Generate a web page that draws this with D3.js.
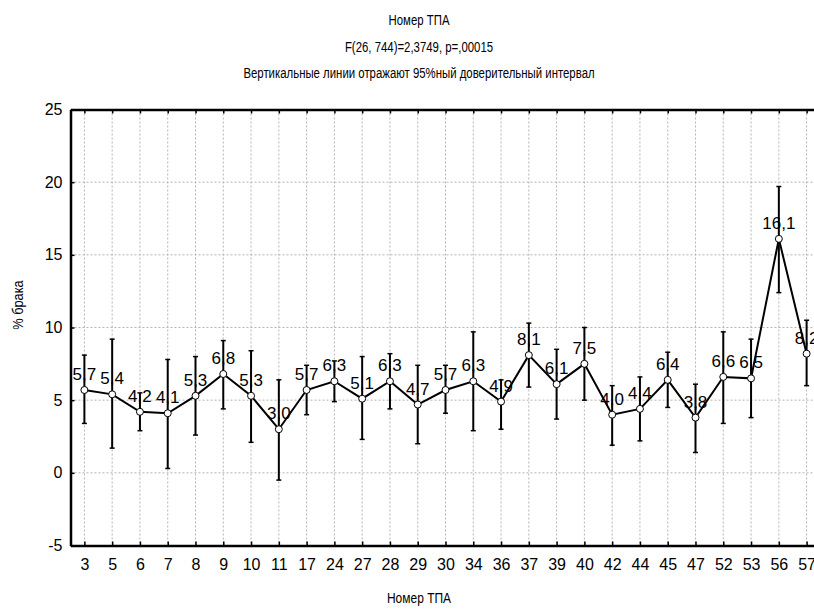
<!DOCTYPE html>
<html>
<head>
<meta charset="utf-8">
<script src="https://unpkg.com/d3@7/dist/d3.min.js"></script>
<style>
  body { margin: 0; background: #fff; }
  svg { font-family: "Liberation Sans", Arial, sans-serif; }
</style>
</head>
<body>
<div class="chart"></div>
<script>
// machine numbers (x categories)
const categories = ["3","5","6","7","8","9","10","11","17","24","27","28","29","30","34","36","37","39","40","42","44","45","47","52","53","56","57"];
// mean % defects
const means = [5.7,5.4,4.2,4.1,5.3,6.8,5.3,3.0,5.7,6.3,5.1,6.3,4.7,5.7,6.3,4.9,8.1,6.1,7.5,4.0,4.4,6.4,3.8,6.6,6.5,16.1,8.2];
// 95% confidence interval bounds
const ciLow = [3.4,1.7,2.9,0.3,2.6,4.4,2.1,-0.5,4.0,4.9,2.3,4.4,2.0,4.1,2.9,3.0,5.9,3.7,5.0,1.9,2.2,4.5,1.4,3.4,3.8,12.4,6.0];
const ciHigh = [8.1,9.2,5.5,7.8,8.0,9.1,8.4,6.4,7.4,7.7,8.0,8.2,7.4,7.4,9.7,6.4,10.3,8.5,10.0,6.0,6.6,8.3,6.1,9.7,9.2,19.7,10.5];
const yTicks = [-5, 0, 5, 10, 15, 20, 25];

const titleLines = ["Номер ТПА", "F(26, 744)=2,3749, p=,00015", "Вертикальные линии отражают 95%ный доверительный интервал"];

const W = 814, H = 611;
const margin = { top: 109.5, left: 70.5 };
const width = 750, height = 436;

const data = categories.map((c, i) => ({ cat: c, mean: means[i], lo: ciLow[i], hi: ciHigh[i] }));

const svg = d3.select(".chart").append("svg")
  .attr("width", W).attr("height", H);

const g = svg.append("g")
  .attr("transform", "translate(" + margin.left + "," + margin.top + ")");

const x = d3.scalePoint().domain(categories).range([0, width]).padding(0.5);
const y = d3.scaleLinear().domain([-5, 25]).range([height, 0]);

// grid
g.append("g").selectAll("line").data(categories).join("line")
  .attr("x1", d => x(d)).attr("x2", d => x(d))
  .attr("y1", 0).attr("y2", height)
  .attr("stroke", "#b4b4b4").attr("stroke-dasharray", "2,2");
g.append("g").selectAll("line").data(yTicks.slice(1, -1)).join("line")
  .attr("x1", 0).attr("x2", width)
  .attr("y1", d => y(d)).attr("y2", d => y(d))
  .attr("stroke", "#b4b4b4").attr("stroke-dasharray", "2,2");

// axes
const xBottom = d3.axisBottom(x).tickSizeInner(-4).tickSizeOuter(0).tickPadding(13);
const xTop = d3.axisTop(x).tickSizeInner(-4).tickSizeOuter(0).tickFormat("");
const yLeft = d3.axisLeft(y).tickValues(yTicks).tickFormat(d => String(d))
  .tickSizeInner(-4).tickSizeOuter(0).tickPadding(8);

function styleAxis(sel) {
  sel.select(".domain").attr("stroke-width", 2.5);
  sel.selectAll(".tick line").attr("stroke-width", 1.5);
  sel.selectAll(".tick text").attr("font-size", "16px").attr("fill", "#000")
    .attr("font-family", "Liberation Sans, Arial, sans-serif");
}

g.append("g").attr("transform", `translate(0,${height})`).call(xBottom).call(styleAxis);
g.append("g").call(xTop).call(styleAxis);
g.append("g").call(yLeft).call(styleAxis);

// error bars
const bars = g.append("g").selectAll("g").data(data).join("g");
bars.append("line")
  .attr("x1", d => x(d.cat)).attr("x2", d => x(d.cat))
  .attr("y1", d => y(d.lo)).attr("y2", d => y(d.hi))
  .attr("stroke", "#000").attr("stroke-width", 2);
bars.append("line")
  .attr("x1", d => x(d.cat) - 2.5).attr("x2", d => x(d.cat) + 2.5)
  .attr("y1", d => y(d.lo)).attr("y2", d => y(d.lo))
  .attr("stroke", "#000").attr("stroke-width", 1.5);
bars.append("line")
  .attr("x1", d => x(d.cat) - 2.5).attr("x2", d => x(d.cat) + 2.5)
  .attr("y1", d => y(d.hi)).attr("y2", d => y(d.hi))
  .attr("stroke", "#000").attr("stroke-width", 1.5);

// mean line
const line = d3.line().x(d => x(d.cat)).y(d => y(d.mean));
g.append("path").datum(data)
  .attr("d", line).attr("fill", "none")
  .attr("stroke", "#000").attr("stroke-width", 2);

// value labels
g.append("g").selectAll("text").data(data).join("text")
  .attr("x", d => x(d.cat)).attr("y", d => y(d.mean) - 10)
  .attr("text-anchor", "middle")
  .attr("font-size", "17px")
  .text(d => d.mean.toFixed(1).replace(".", ","));

// points
g.append("g").selectAll("circle").data(data).join("circle")
  .attr("cx", d => x(d.cat)).attr("cy", d => y(d.mean))
  .attr("r", 3.5).attr("fill", "#fff")
  .attr("stroke", "#000").attr("stroke-width", 1);

// titles (narrow look: scaled horizontally)
svg.append("g").selectAll("text").data(titleLines).join("text")
  .attr("transform", (d, i) => `translate(419,${25 + i * 26.5}) scale(0.76,1)`)
  .attr("text-anchor", "middle").attr("font-size", "15px")
  .text(d => d);

svg.append("text")
  .attr("transform", "translate(419,603) scale(0.8,1)")
  .attr("text-anchor", "middle").attr("font-size", "15px")
  .text("Номер ТПА");

svg.append("text")
  .attr("transform", "translate(23,305) rotate(-90) scale(0.85,1)")
  .attr("text-anchor", "middle").attr("font-size", "15px")
  .text("% брака");
</script>
</body>
</html>
